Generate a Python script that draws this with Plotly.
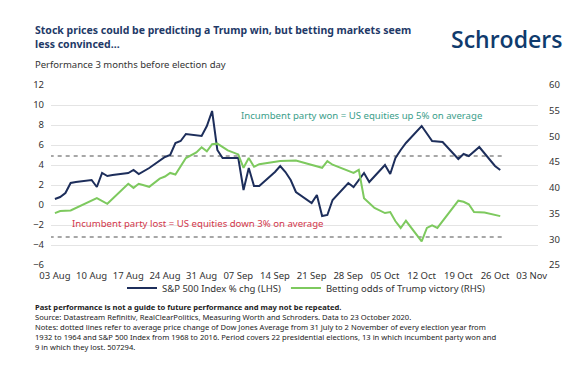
import plotly.graph_objects as go

# ---------------- data ----------------
sp_dates = ["2020-08-03", "2020-08-04", "2020-08-05", "2020-08-06", "2020-08-07", "2020-08-10",
            "2020-08-11", "2020-08-12", "2020-08-13", "2020-08-14", "2020-08-17", "2020-08-18",
            "2020-08-19", "2020-08-20", "2020-08-21", "2020-08-24", "2020-08-25", "2020-08-26",
            "2020-08-27", "2020-08-28", "2020-08-31", "2020-09-01", "2020-09-02", "2020-09-03",
            "2020-09-04", "2020-09-07", "2020-09-08", "2020-09-09", "2020-09-10", "2020-09-11",
            "2020-09-14", "2020-09-15", "2020-09-16", "2020-09-17", "2020-09-18", "2020-09-21",
            "2020-09-22", "2020-09-23", "2020-09-24", "2020-09-25", "2020-09-28", "2020-09-29",
            "2020-09-30", "2020-10-01", "2020-10-02", "2020-10-05", "2020-10-06", "2020-10-07",
            "2020-10-08", "2020-10-09", "2020-10-12", "2020-10-13", "2020-10-14", "2020-10-15",
            "2020-10-16", "2020-10-19", "2020-10-20", "2020-10-21", "2020-10-22", "2020-10-23",
            "2020-10-26", "2020-10-27"]
sp_values = [0.6, 0.8, 1.2, 2.2, 2.3, 2.5,
             1.8, 3.2, 2.9, 3.0, 3.2, 3.5,
             3.1, 3.4, 3.7, 4.8, 5.0, 6.2,
             6.4, 7.1, 6.9, 7.9, 9.4, 5.5,
             4.7, 4.7, 1.5, 3.7, 1.9, 1.9,
             3.3, 3.9, 3.3, 2.5, 1.3, 0.2,
             1.0, -1.1, -1.0, 0.5, 2.2, 1.8,
             2.5, 3.2, 2.3, 4.0, 3.1, 4.7,
             5.5, 6.2, 7.9, 7.2, 6.4, 6.35,
             6.3, 4.6, 5.1, 4.9, 5.4, 5.8,
             3.9, 3.5]

odds_dates = ["2020-08-03", "2020-08-04", "2020-08-06", "2020-08-11", "2020-08-13", "2020-08-17",
              "2020-08-18", "2020-08-19", "2020-08-21", "2020-08-23", "2020-08-24", "2020-08-25",
              "2020-08-26", "2020-08-27", "2020-08-28", "2020-08-30", "2020-08-31", "2020-09-01",
              "2020-09-02", "2020-09-03", "2020-09-05", "2020-09-07", "2020-09-08", "2020-09-09",
              "2020-09-10", "2020-09-11", "2020-09-15", "2020-09-18", "2020-09-23", "2020-09-24",
              "2020-09-25", "2020-09-29", "2020-09-30", "2020-10-01", "2020-10-03", "2020-10-05",
              "2020-10-06", "2020-10-07", "2020-10-08", "2020-10-09", "2020-10-12", "2020-10-13",
              "2020-10-14", "2020-10-15", "2020-10-19", "2020-10-20", "2020-10-21", "2020-10-22",
              "2020-10-24", "2020-10-27"]
odds_values = [35.1, 35.5, 35.6, 38.0, 36.9, 40.8,
               40.0, 40.8, 40.2, 41.8, 42.2, 42.9,
               42.6, 44.3, 45.8, 46.9, 47.9, 47.1,
               48.5, 48.6, 47.3, 46.5, 43.9, 45.8,
               44.1, 44.6, 45.2, 45.3, 43.9, 45.2,
               44.5, 42.9, 43.5, 38.0, 36.1, 35.1,
               35.3, 33.5, 32.2, 33.6, 29.6, 32.2,
               32.7, 32.2, 37.5, 37.3, 36.8, 35.3,
               35.2, 34.5]

avg_dates = ["2020-08-02", "2020-10-28"]
avg_won = 4.9     # incumbent party won, % average
avg_lost = -3.2   # incumbent party lost, % average

tick_dates = ["2020-08-03", "2020-08-10", "2020-08-17", "2020-08-24", "2020-08-31", "2020-09-07",
              "2020-09-14", "2020-09-21", "2020-09-28", "2020-10-05", "2020-10-12", "2020-10-19",
              "2020-10-26", "2020-11-02"]
tick_labels = ["03 Aug", "10 Aug", "17 Aug", "24 Aug", "31 Aug", "07 Sep", "14 Sep", "21 Sep",
               "28 Sep", "05 Oct", "12 Oct", "19 Oct", "26 Oct", "03 Nov"]

left_ticks = [-6, -4, -2, 0, 2, 4, 6, 8, 10, 12]
right_ticks = [25, 30, 35, 40, 45, 50, 55, 60]

# ---------------- style ----------------
FONT = "Noto Sans"
NAVY = "#1d2e5b"
GREEN = "#7dc95e"
TEXT = "#333333"
W, H = 575, 368
ML, MR, MT, MB = 43, 45, 77, 111
PW, PH = W - ML - MR, H - MT - MB


def px(x):
    return (x - ML) / PW


def py(y):
    return (H - MB - y) / PH


fig = go.Figure()

for val in (avg_won, avg_lost):
    fig.add_trace(go.Scatter(x=avg_dates, y=[val, val], mode="lines", yaxis="y",
                             line=dict(color="#8a8a8a", width=1.3, dash="4px,4px"),
                             showlegend=False, hoverinfo="skip"))

fig.add_trace(go.Scatter(x=sp_dates, y=sp_values, mode="lines", name="S&P 500 Index % chg (LHS)",
                         yaxis="y", line=dict(color=NAVY, width=2)))
fig.add_trace(go.Scatter(x=odds_dates, y=odds_values, mode="lines",
                         name="Betting odds of Trump victory (RHS)",
                         yaxis="y2", line=dict(color=GREEN, width=2)))

annotations = [
    dict(text="<b>Stock prices could be predicting a Trump win, but betting markets seem<br>less convinced...</b>",
         x=px(25), y=py(13), xref="paper", yref="paper", xanchor="left", yanchor="top",
         align="left", showarrow=False, font=dict(family=FONT, size=10.5, color="#1f3a68")),
    dict(text="Schroders", x=px(556), y=py(31), xref="paper", yref="paper", xanchor="right",
         yanchor="middle", showarrow=False,
         font=dict(family="Open Sans", size=23, color="#0f3b6d", weight=600)),
    dict(text="Performance 3 months before election day", x=px(25), y=py(57), xref="paper",
         yref="paper", xanchor="left", yanchor="middle", showarrow=False,
         font=dict(family=FONT, size=9.5, color=TEXT)),
    dict(text="Incumbent party won = US equities up 5% on average", x="2020-09-30 12:00", y=9.0,
         xref="x", yref="y", showarrow=False, font=dict(family=FONT, size=9.6, color="#3a9e8a")),
    dict(text="Incumbent party lost = US equities down 3% on average", x="2020-08-30 06:00", y=-1.8,
         xref="x", yref="y", showarrow=False, font=dict(family=FONT, size=9.6, color="#d2374b")),
    dict(text="<b>Past performance is not a guide to future performance and may not be repeated.</b><br>"
              "Source: Datastream Refinitiv, RealClearPolitics, Measuring Worth and Schroders. Data to 23 October 2020.<br>"
              "Notes: dotted lines refer to average price change of Dow Jones Average from 31 July to 2 November of every election year from<br>"
              "1932 to 1964 and S&P 500 Index from 1968 to 2016. Period covers 22 presidential elections, 13 in which incumbent party won and<br>"
              "9 in which they lost. 507294.",
         x=px(25), y=py(292), xref="paper", yref="paper", xanchor="left", yanchor="top",
         align="left", showarrow=False, font=dict(family=FONT, size=7.6, color="#222222")),
]

fig.update_layout(
    width=W, height=H,
    margin=dict(l=ML, r=MR, t=MT, b=MB, autoexpand=False),
    paper_bgcolor="white", plot_bgcolor="white",
    font=dict(family=FONT, size=10, color=TEXT),
    xaxis=dict(type="date", range=["2020-08-02 06:00", "2020-11-03 05:00"],
               tickvals=tick_dates, ticktext=tick_labels, showgrid=False, zeroline=False,
               showline=False, ticks="", tickfont=dict(size=9.5, color=TEXT), ticklabelstandoff=3),
    yaxis=dict(range=[-6, 12], tickvals=left_ticks, showgrid=True, gridcolor="#e4e4e4",
               gridwidth=1, zeroline=False, showline=False, ticks="",
               tickfont=dict(size=9.5, color=TEXT), ticklabelstandoff=6),
    yaxis2=dict(range=[25, 60], tickvals=right_ticks, overlaying="y", side="right",
                showgrid=False, zeroline=False, showline=False, ticks="",
                tickfont=dict(size=9.5, color=TEXT), ticklabelstandoff=10),
    legend=dict(orientation="h", x=px(114), xanchor="left", y=py(280), yanchor="middle",
                font=dict(size=9.5, color=TEXT), itemwidth=30,
                bgcolor="rgba(0,0,0,0)"),
    annotations=annotations,
    showlegend=True,
)

fig.write_html("out.html")
